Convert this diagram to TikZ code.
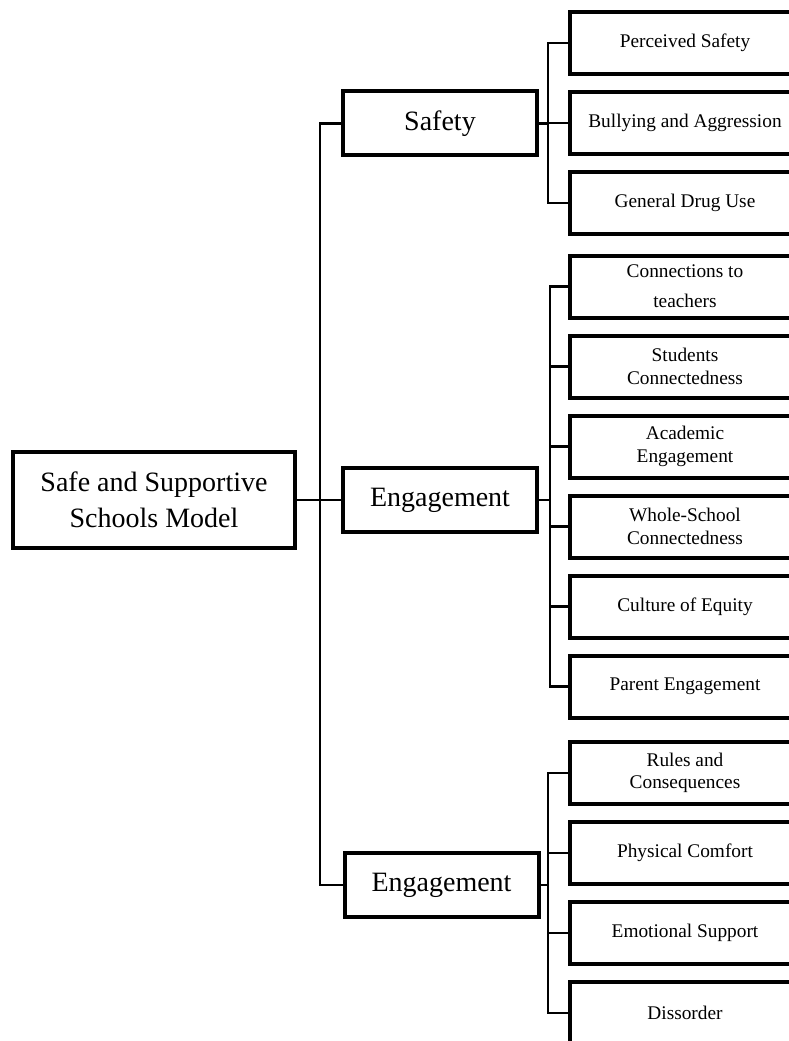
\documentclass[tikz,border=0pt]{standalone}
\usepackage{fontspec}
\setmainfont{Liberation Serif}
\usetikzlibrary{positioning}
\tikzstyle{model} = [rectangle, minimum width=211.5pt, minimum height=72pt, text centered, align=center, draw=black, line width=3pt, font=\fontsize{21}{27}\selectfont]
\tikzstyle{branchbox} = [rectangle, minimum width=145.5pt, minimum height=48pt, text centered, draw=black, line width=3pt, font=\fontsize{21}{25}\selectfont]
\tikzstyle{indicator} = [rectangle, minimum width=172.5pt, minimum height=46.5pt, text centered, align=center, draw=black, line width=3pt, font=\fontsize{14.5}{17}\selectfont]
\tikzstyle{link} = [line width=2pt]

\begin{document}
\begin{tikzpicture}[x=0.75pt, y=-0.75pt, node distance=60pt]
        \useasboundingbox (0,0) rectangle (788,1041);

        \node (model) [model] at (154,500) {Safe and Supportive\\Schools Model};
        \node (safety) [branchbox] at (440,123.5) {Safety};
        \node (engage) [branchbox] at (440,500) {Engagement};
        \node (environ) [branchbox] at (441.5,885) {Engagement};

        \node (perceived) [indicator] at (685,43) {Perceived Safety};
        \node (bullying) [indicator, below of=perceived] {Bullying and Aggression};
        \node (drugs) [indicator, below of=bullying] {General Drug Use};

        \node (teachers) [indicator, font=\fontsize{14.5}{22.5}\selectfont] at (685,286.5) {Connections to\\teachers};
        \node (students) [indicator, below of=teachers] {Students\\Connectedness};
        \node (academic) [indicator, below of=students] {Academic\\Engagement};
        \node (whole) [indicator, below of=academic] {Whole-School\\Connectedness};
        \node (equity) [indicator, below of=whole] {Culture of Equity};
        \node (parent) [indicator, below of=equity] {Parent Engagement};

        \node (rules) [indicator] at (685,773) {Rules and\\Consequences};
        \node (comfort) [indicator, below of=rules] {Physical Comfort};
        \node (support) [indicator, below of=comfort] {Emotional Support};
        \node (disorder) [indicator, below of=support] {Dissorder};

        \coordinate (trunk) at (320,0);
        \coordinate (busa) at (548,0);
        \coordinate (busb) at (550,0);
        \coordinate (busc) at (548,0);

        \draw [link] (model.east) -- (model.east -| trunk);
        \draw [link] (safety.west) -- (safety.west -| trunk) -- (environ.west -| trunk) -- (environ.west);
        \draw [link] (model.east -| trunk) -- (engage.west);

        \draw [link] (safety.east) -- (safety.east -| busa);
        \draw [link] (perceived.west) -- (perceived.west -| busa) -- (drugs.west -| busa) -- (drugs.west);
        \draw [link] (bullying.west) -- (bullying.west -| busa);

        \draw [link] (engage.east) -- (engage.east -| busb);
        \draw [link] (teachers.west) -- (teachers.west -| busb) -- (parent.west -| busb) -- (parent.west);
        \draw [link] (students.west) -- (students.west -| busb);
        \draw [link] (academic.west) -- (academic.west -| busb);
        \draw [link] (whole.west) -- (whole.west -| busb);
        \draw [link] (equity.west) -- (equity.west -| busb);

        \draw [link] (environ.east) -- (environ.east -| busc);
        \draw [link] (rules.west) -- (rules.west -| busc) -- (disorder.west -| busc) -- (disorder.west);
        \draw [link] (comfort.west) -- (comfort.west -| busc);
        \draw [link] (support.west) -- (support.west -| busc);

\end{tikzpicture}
\end{document}
